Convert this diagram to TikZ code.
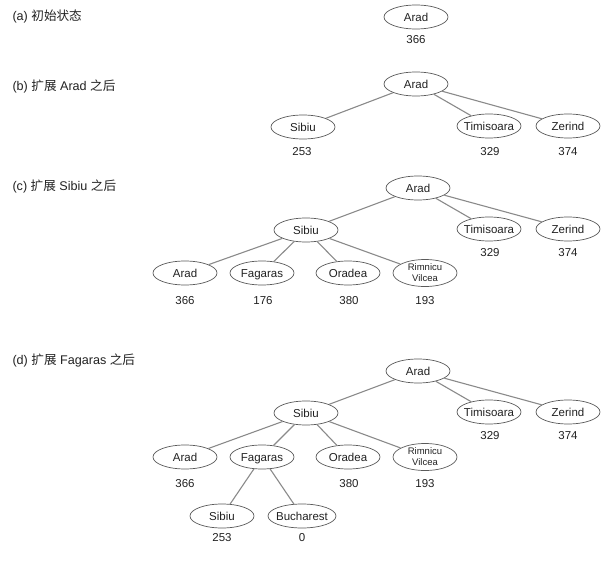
\documentclass[tikz,border=0pt]{standalone}
\usepackage{fontspec}
\setmainfont{Liberation Sans}
\newfontfamily\cjk{Noto Sans CJK SC}
\usetikzlibrary{shapes.geometric,positioning}
\definecolor{sline}{HTML}{8A8A8A}
\definecolor{sedge}{HTML}{5A5A5A}
\definecolor{stxt}{HTML}{222222}

\begin{document}
\begin{tikzpicture}[
    x=1pt,y=-1pt,
    ebase/.style={ellipse,draw=sedge,line width=0.7pt,fill=white,text=stxt,
                  minimum width=64pt,minimum height=24pt,
                  inner xsep=-4pt,inner ysep=0pt},
    st/.style={ebase,font=\fontsize{11.5}{13}\selectfont,
               text height=10.5pt,text depth=2.3pt},
    st2/.style={ebase,align=center,minimum height=27pt,
                font=\fontsize{9.5}{11}\selectfont},
    hv/.style={text=stxt,font=\fontsize{11.5}{13}\selectfont},
    ln/.style={draw=sline,line width=1.1pt},
    ttl/.style={anchor=west,text=stxt,font=\fontsize{12.6}{14}\selectfont}
  ]
    \useasboundingbox[fill=white] (0,0) rectangle (608,567);

    % (a) initial state
    \node[ttl] (ta) at (9,16) {(a) {\cjk 初始状态}};
    \node[st] (aA) at (416,17) {Arad};
    \node[hv] (aAv) at (416,40) {366};

    % (b) after expanding Arad
    \node[ttl] (tb) at (9,86) {(b) {\cjk 扩展} Arad {\cjk 之后}};
    \node[st] (bA) at (416,84)  {Arad};
    \node[st] (bS) at (303,127) {Sibiu};
    \node[st] (bT) at (489,126) {Timisoara};
    \node[st] (bZ) at (568,126) {Zerind};
    \node[hv] (bSv) at (302,152) {253};
    \node[hv] (bTv) at (490,152) {329};
    \node[hv] (bZv) at (568,152) {374};
    \draw[ln] (bA) -- (bS);
    \draw[ln] (bA) -- (bT);
    \draw[ln] (bA) -- (bZ);

    % (c) after expanding Sibiu
    \node[ttl] (tc) at (9,186) {(c) {\cjk 扩展} Sibiu {\cjk 之后}};
    \node[st] (cA) at (418,188) {Arad};
    \node[st] (cS) at (306,230) {Sibiu};
    \node[st] (cT) at (489,229) {Timisoara};
    \node[st] (cZ) at (568,229) {Zerind};
    \node[hv] (cTv) at (490,253) {329};
    \node[hv] (cZv) at (568,253) {374};
    \node[st] (cSA) at (185,273) {Arad};
    \node[st] (cSF) at (262,273) {Fagaras};
    \node[st] (cSO) at (348,273) {Oradea};
    \node[st2] (cSR) at (425,273) {Rimnicu\\Vilcea};
    \node[hv] (cSAv) at (185,301) {366};
    \node[hv] (cSFv) at (263,301) {176};
    \node[hv] (cSOv) at (349,301) {380};
    \node[hv] (cSRv) at (425,301) {193};
    \draw[ln] (cA) -- (cS);
    \draw[ln] (cA) -- (cT);
    \draw[ln] (cA) -- (cZ);
    \draw[ln] (cS) -- (cSA);
    \draw[ln] (cS) -- (cSF);
    \draw[ln] (cS) -- (cSO);
    \draw[ln] (cS) -- (cSR);

    % (d) after expanding Fagaras
    \node[ttl] (td) at (9,360) {(d) {\cjk 扩展} Fagaras {\cjk 之后}};
    \node[st] (dA) at (418,371) {Arad};
    \node[st] (dS) at (306,413) {Sibiu};
    \node[st] (dT) at (489,412) {Timisoara};
    \node[st] (dZ) at (568,412) {Zerind};
    \node[hv] (dTv) at (490,436) {329};
    \node[hv] (dZv) at (568,436) {374};
    \node[st] (dSA) at (185,457) {Arad};
    \node[st] (dSF) at (262,457) {Fagaras};
    \node[st] (dSO) at (348,457) {Oradea};
    \node[st2] (dSR) at (425,457) {Rimnicu\\Vilcea};
    \node[hv] (dSAv) at (185,484) {366};
    \node[hv] (dSOv) at (349,484) {380};
    \node[hv] (dSRv) at (425,484) {193};
    \node[st] (dFS) at (222,516) {Sibiu};
    \node[st,minimum width=68pt] (dFB) at (302,516) {Bucharest};
    \node[hv] (dFSv) at (222,538) {253};
    \node[hv] (dFBv) at (302,538) {0};
    \draw[ln] (dA) -- (dS);
    \draw[ln] (dA) -- (dT);
    \draw[ln] (dA) -- (dZ);
    \draw[ln] (dS) -- (dSA);
    \draw[ln] (dS) -- (dSF);
    \draw[ln] (dS) -- (dSO);
    \draw[ln] (dS) -- (dSR);
    \draw[ln] (dSF) -- (dFS);
    \draw[ln] (dSF) -- (dFB);

  \end{tikzpicture}
\end{document}
